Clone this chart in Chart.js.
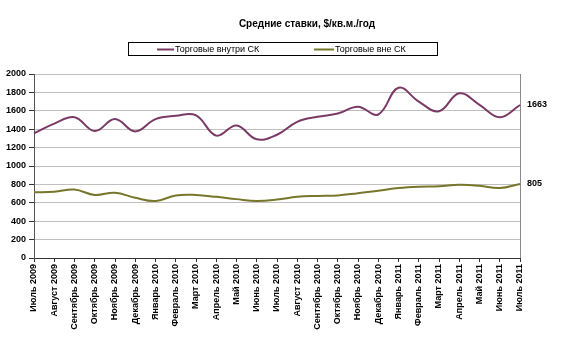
<!DOCTYPE html>
<html>
<head>
<meta charset="utf-8">
<script src="https://cdn.jsdelivr.net/npm/chart.js@4/dist/chart.umd.min.js"></script>
<style>
html,body{margin:0;padding:0;background:#fff;}
#wrap{width:563px;height:360px;position:relative;}
</style>
</head>
<body>
<div id="wrap"><canvas id="c" width="563" height="360"></canvas></div>
<script>
const chartTitle = 'Средние ставки, $/кв.м./год';
const categories = ['Июль 2009','Август 2009','Сентябрь 2009','Октябрь 2009','Ноябрь 2009','Декабрь 2009',
  'Январь 2010','Февраль 2010','Март 2010','Апрель 2010','Май 2010','Июнь 2010','Июль 2010','Август 2010',
  'Сентябрь 2010','Октябрь 2010','Ноябрь 2010','Декабрь 2010','Январь 2011','Февраль 2011','Март 2011',
  'Апрель 2011','Май 2011','Июнь 2011','Июль 2011'];
const seriesNames = ['Торговые внутри СК','Торговые вне СК'];
const insideSK = [1355,1460,1530,1380,1510,1375,1510,1545,1550,1330,1440,1290,1340,1480,1535,1570,1645,1560,1850,1700,1595,1790,1665,1530,1663];
const outsideSK = [715,720,745,685,710,655,620,680,685,665,640,620,635,665,675,680,705,730,760,775,780,795,785,760,805];
const yTicks = {min:0, max:2000, step:200};

const colors = ['#7A3A66','#77772C'];
const FONT = '"Liberation Sans", Arial, sans-serif';

const decor = {
  id:'decor',
  beforeDatasetsDraw(chart){
    const {ctx, chartArea:a} = chart;
    ctx.save();
    ctx.strokeStyle = '#8a8a8a';
    ctx.lineWidth = 1;
    ctx.beginPath();
    ctx.moveTo(Math.round(a.right)+0.5, a.top);
    ctx.lineTo(Math.round(a.right)+0.5, a.bottom);
    ctx.stroke();
    ctx.restore();
  },
  afterDraw(chart){
    const {ctx} = chart;
    ctx.save();
    ctx.fillStyle = '#000';
    ctx.font = 'bold 10px ' + FONT;
    ctx.textAlign = 'center';
    ctx.textBaseline = 'middle';
    ctx.fillText(chartTitle, 307, 24);
    ctx.strokeStyle = '#000';
    ctx.lineWidth = 1;
    ctx.strokeRect(128.5, 42.5, 309, 13);
    const items = [{x1:157,x2:174},{x1:314,x2:334}];
    ctx.font = '9px ' + FONT;
    ctx.textAlign = 'left';
    chart.data.datasets.forEach((ds,i)=>{
      const it = items[i];
      ctx.strokeStyle = ds.borderColor;
      ctx.lineWidth = 2;
      ctx.beginPath();
      ctx.moveTo(it.x1, 49.5); ctx.lineTo(it.x2, 49.5);
      ctx.stroke();
      ctx.fillStyle = '#000';
      ctx.fillText(ds.label, it.x2 + 1, 49.5);
    });
    ctx.font = 'bold 9px ' + FONT;
    chart.data.datasets.forEach((ds,i)=>{
      const meta = chart.getDatasetMeta(i);
      const p = meta.data[meta.data.length-1];
      ctx.fillText(String(ds.data[ds.data.length-1]), p.x + 7, p.y);
    });
    ctx.restore();
  }
};

new Chart(document.getElementById('c'), {
  type:'line',
  data:{
    labels: categories,
    datasets:[
      {label:seriesNames[0], data:insideSK, borderColor:colors[0], backgroundColor:colors[0], borderWidth:2, pointRadius:0, tension:0.4, fill:false},
      {label:seriesNames[1], data:outsideSK, borderColor:colors[1], backgroundColor:colors[1], borderWidth:2, pointRadius:0, tension:0.4, fill:false}
    ]
  },
  options:{
    responsive:false,
    animation:false,
    devicePixelRatio:1,
    layout:{padding:{top:74, right:43, bottom:0, left:0}},
    plugins:{legend:{display:false}, title:{display:false}, tooltip:{enabled:false}},
    scales:{
      x:{
        offset:false,
        grid:{display:true, drawOnChartArea:false, drawTicks:true, tickLength:4, color:'#333'},
        border:{display:true, color:'#333', width:1},
        ticks:{autoSkip:false, maxRotation:90, minRotation:90, padding:2, color:'#000', font:{family:FONT, size:9, weight:'bold'}},
        afterFit(s){ s.height = 102; }
      },
      y:{
        min:yTicks.min, max:yTicks.max,
        grid:{color:'#c0c0c0', tickLength:5, drawTicks:true, tickColor:'#333'},
        border:{display:true, color:'#555', width:1},
        ticks:{stepSize:yTicks.step, padding:3, color:'#000', font:{family:FONT, size:9, weight:'bold'},
          callback:(v)=>String(v)},
        afterFit(s){ s.width = 34; }
      }
    }
  },
  plugins:[decor]
});
</script>
</body>
</html>
